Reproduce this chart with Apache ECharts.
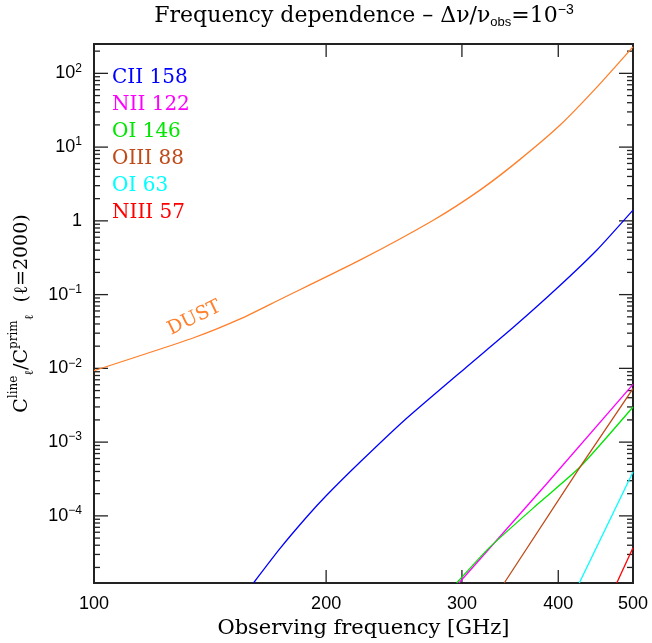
<!DOCTYPE html>
<html>
<head>
<meta charset="utf-8">
<script src="https://cdn.jsdelivr.net/npm/echarts@6/dist/echarts.min.js"></script>
<style>
html, body { margin: 0; padding: 0; background: #fff; }
#chart { width: 652px; height: 643px; }
</style>
</head>
<body>
<div id="chart"></div>
<script>
// values (frequency in GHz, C_l ratio)
var dustFreq = [100, 134.7, 154.5, 174.2, 221.2, 275.4, 316.6, 355.9, 402.2, 448.6, 500];
var dustVal  = [0.0093, 0.026, 0.0464, 0.0858, 0.293, 1.02, 2.61, 6.66, 19.9, 64.6, 229];

var ciiFreq = [161, 174.2, 188.7, 200.3, 221.2, 252.7, 304.2, 349.8, 398.1, 448.6, 500];
var ciiVal  = [1.23e-5, 3.59e-5, 9.64e-5, 1.90e-4, 5.32e-4, 1.98e-3, 1.045e-2, 0.0361, 0.121, 0.40, 1.40];

var niiFreq = [297.3, 386.4, 500];
var niiVal  = [1.23e-5, 2.73e-4, 6.08e-3];

var oi146Freq = [295.3, 326.1, 378.8, 426.8, 500];
var oi146Val  = [1.23e-5, 3.77e-5, 1.54e-4, 4.59e-4, 2.99e-3];

var oiiiFreq = [340.4, 426.8, 500];
var oiiiVal  = [1.23e-5, 4.59e-4, 5.3e-3];

var oi63Freq = [425.9, 500];
var oi63Val  = [1.23e-5, 3.93e-4];

var niiiFreq = [476.3, 500];
var niiiVal  = [1.23e-5, 3.7e-5];

var lineNames = ['CII 158', 'NII 122', 'OI 146', 'OIII 88', 'OI 63', 'NIII 57'];
var lineColors = ['#0000ff', '#ff00ff', '#00e600', '#c04a18', '#00ffff', '#ff0000'];
var dustColor = '#ff7f2a';

var xTicks = [100, 200, 300, 400, 500];
var yMajor = [1e-4, 1e-3, 1e-2, 1e-1, 1, 10, 100];
var yMin = 1.23e-5, yMax = 250;
var xMin = 100, xMax = 500;

var yMinor = [];
[1e-5, 1e-4, 1e-3, 1e-2, 1e-1, 1, 10, 100].forEach(function (d) {
    for (var k = 2; k <= 9; k++) {
        var v = k * d;
        if (v > yMin && v < yMax) yMinor.push(v);
    }
});

function pairs(fs, vs) {
    return fs.map(function (f, i) { return [f, vs[i]]; });
}

var myChart = echarts.init(document.getElementById('chart'));

var serif = 'DejaVu Serif';
var sans = 'Liberation Sans';
var tickColor = '#222';
var tw = 1.3;
// anchors inside the plot for the tick items; frame edges come from the axes
var anchorX = 200, anchorY = 1;

var lineData = [
    pairs(ciiFreq, ciiVal),
    pairs(niiFreq, niiVal),
    pairs(oi146Freq, oi146Val),
    pairs(oiiiFreq, oiiiVal),
    pairs(oi63Freq, oi63Val),
    pairs(niiiFreq, niiiVal)
];

function yTickSeries(values, len, side) {
    return {
        type: 'custom',
        data: values.map(function (v) { return [anchorX, v]; }),
        renderItem: function (params, api) {
            var p = api.coord([side === 'left' ? xMin : xMax, api.value(1)]);
            var x = side === 'left' ? p[0] : p[0] - len;
            return {
                type: 'rect',
                shape: { x: x, y: p[1] - tw / 2, width: len, height: tw },
                style: { fill: tickColor }
            };
        }
    };
}

function xTickSeries(values, len, side) {
    return {
        type: 'custom',
        data: values.map(function (v) { return [v, anchorY]; }),
        renderItem: function (params, api) {
            var p = api.coord([api.value(0), side === 'bottom' ? yMin : yMax]);
            var y = side === 'bottom' ? p[1] - len : p[1];
            return {
                type: 'rect',
                shape: { x: p[0] - tw / 2, y: y, width: tw, height: len },
                style: { fill: tickColor }
            };
        }
    };
}

var series = [{
    name: 'DUST',
    type: 'line',
    data: pairs(dustFreq, dustVal),
    showSymbol: false,
    smooth: 0.2,
    lineStyle: { color: dustColor, width: 1.3 },
    itemStyle: { color: dustColor },
    markPoint: {
        silent: true,
        symbol: 'circle',
        symbolSize: 0,
        label: {
            show: true, position: 'inside', formatter: 'DUST', rotate: 26,
            color: dustColor, fontFamily: serif, fontSize: 19
        },
        data: [{ coord: [135, 0.048] }]
    }
}];
lineNames.forEach(function (n, i) {
    series.push({
        name: n,
        type: 'line',
        data: lineData[i],
        showSymbol: false,
        smooth: lineData[i].length > 3 ? 0.2 : false,
        lineStyle: { color: lineColors[i], width: 1.3 },
        itemStyle: { color: lineColors[i] }
    });
});
series.push(
    yTickSeries(yMajor, 14, 'left'),
    yTickSeries(yMajor, 14, 'right'),
    yTickSeries(yMinor, 6, 'left'),
    yTickSeries(yMinor, 6, 'right'),
    xTickSeries(xTicks, 13, 'bottom'),
    xTickSeries(xTicks, 13, 'top')
);

var option = {
    animation: false,
    backgroundColor: '#fff',
    title: {
        text: 'Frequency dependence \u2013 \u0394\u03bd/\u03bd{sub|obs}=10{sup|\u22123}',
        left: 364,
        textAlign: 'center',
        top: 3,
        padding: 0,
        textStyle: {
            fontFamily: serif, fontSize: 22, fontWeight: 'normal', color: '#000', lineHeight: 26,
            rich: {
                sub: { fontFamily: sans, fontSize: 13, lineHeight: 12, verticalAlign: 'bottom', color: '#000' },
                sup: { fontFamily: sans, fontSize: 14, lineHeight: 14, verticalAlign: 'top', color: '#000' }
            }
        }
    },
    legend: {
        data: lineNames.map(function (n, i) {
            return { name: n, textStyle: { color: lineColors[i] } };
        }),
        orient: 'vertical',
        left: 101,
        top: 63,
        itemWidth: 0,
        itemHeight: 0,
        itemGap: 7,
        selectedMode: false,
        textStyle: { fontFamily: serif, fontSize: 20, lineHeight: 20 }
    },
    grid: {
        left: 94, right: 19, top: 44, bottom: 60,
        show: true, borderColor: '#222', borderWidth: 2, backgroundColor: 'transparent',
        containLabel: false, outerBoundsMode: 'none'
    },
    xAxis: {
        type: 'log',
        min: xMin,
        max: xMax,
        axisLine: { show: false },
        axisTick: { show: false },
        splitLine: { show: false },
        axisLabel: {
            show: true, customValues: xTicks, margin: 12,
            fontFamily: sans, fontSize: 18, color: '#000'
        },
        name: 'Observing frequency [GHz]',
        nameLocation: 'middle',
        nameGap: 35,
        nameTextStyle: { fontFamily: serif, fontSize: 21, color: '#000' }
    },
    yAxis: {
        type: 'log',
        min: yMin,
        max: yMax,
        axisLine: { show: false },
        axisTick: { show: false },
        splitLine: { show: false },
        axisLabel: {
            show: true,
            customValues: yMajor,
            margin: 12,
            fontFamily: sans,
            fontSize: 18,
            color: '#000',
            lineHeight: 22,
            formatter: function (v) {
                var e = Math.round(Math.log10(v));
                if (e === 0) return '1';
                return '10{s|' + String(e).replace('-', '\u2212') + '}';
            },
            rich: {
                s: { fontFamily: sans, fontSize: 12, lineHeight: 12, verticalAlign: 'top', color: '#000' }
            }
        },
        name: 'C{sup|line}{sub|\u2113}/C{sup|prim}{sub|\u2113}  (\u2113=2000)',
        nameLocation: 'middle',
        nameGap: 58,
        nameRotate: 90,
        nameTextStyle: {
            fontFamily: serif, fontSize: 19, color: '#000', lineHeight: 28,
            rich: {
                sup: { fontFamily: serif, fontSize: 12, lineHeight: 12, verticalAlign: 'top', color: '#000' },
                sub: { fontFamily: serif, fontSize: 12, lineHeight: 12, verticalAlign: 'bottom', color: '#000' }
            }
        }
    },
    series: series
};

myChart.setOption(option);
window.onresize = function () {
    myChart.resize();
};
</script>
</body>
</html>
